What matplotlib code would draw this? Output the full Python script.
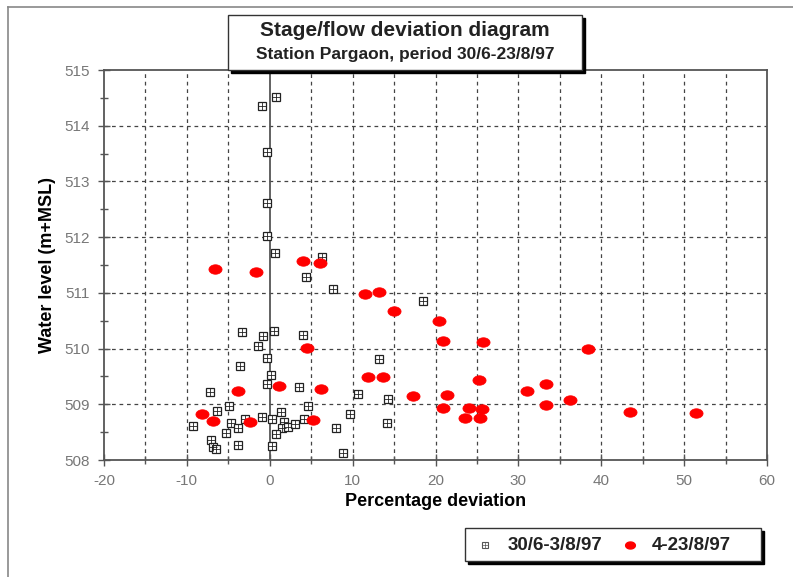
import matplotlib
matplotlib.use("Agg")
import numpy as np
import matplotlib.pyplot as plt
from matplotlib.patches import Rectangle
from matplotlib.lines import Line2D
from matplotlib.path import Path
from matplotlib.ticker import MultipleLocator

plt.rcParams['font.family'] = ['Liberation Sans', 'DejaVu Sans']
plt.rcParams['axes.unicode_minus'] = False

# Series 1: 30/6-3/8/97 (squares)
s1_dev = [0.77, -0.92, -0.31, -0.31, -0.31, 0.65, 6.33, 4.40, 7.66, 18.53,
          -3.33, -0.80, 0.53, 4.03, -1.40, -0.31, 13.21, -3.57, 0.17, -0.31,
          3.55, -7.20, 10.68, 14.30, 4.64, -4.90, -6.35, 1.38, 9.71, -9.25,
          -4.66, -3.82, -2.97, -0.92, 0.29, 1.74, 1.50, 2.22, 3.07, 4.15,
          8.02, 14.18, -5.27, 0.77, -7.08, -6.84, -6.47, -3.82, 0.29, 8.86]
s1_lvl = [514.52, 514.36, 513.53, 512.61, 512.02, 511.72, 511.64, 511.29, 511.07, 510.85,
          510.30, 510.23, 510.32, 510.24, 510.05, 509.83, 509.81, 509.69, 509.53, 509.36,
          509.31, 509.22, 509.18, 509.10, 508.97, 508.97, 508.88, 508.86, 508.83, 508.61,
          508.66, 508.57, 508.74, 508.77, 508.74, 508.68, 508.57, 508.59, 508.65, 508.74,
          508.57, 508.66, 508.48, 508.47, 508.36, 508.23, 508.20, 508.27, 508.25, 508.13]

# Series 2: 4-23/8/97 (red dots)
s2_dev = [-6.6, -1.64, 4.03, 6.09, 11.52, 13.21, 15.02, 20.46, 20.94, 25.77,
          4.52, 38.45, 1.14, 6.21, 11.88, 13.70, -3.82, 17.32, 21.43, 25.29,
          31.09, 33.38, 36.28, 33.38, 20.94, 24.08, 25.65, 23.60, 25.41, 43.41,
          51.38, -8.16, -6.84, -2.37, 5.24]
s2_lvl = [511.43, 511.38, 511.57, 511.54, 510.98, 511.02, 510.68, 510.50, 510.14, 510.12,
          510.01, 509.99, 509.33, 509.27, 509.49, 509.49, 509.24, 509.15, 509.17, 509.44,
          509.24, 509.36, 509.08, 508.99, 508.93, 508.93, 508.92, 508.75, 508.75, 508.86,
          508.84, 508.83, 508.70, 508.68, 508.72]

title1 = "Stage/flow deviation diagram"
title2 = "Station Pargaon, period 30/6-23/8/97"
xlabel = "Percentage deviation"
ylabel = "Water level (m+MSL)"
label1 = "30/6-3/8/97"
label2 = "4-23/8/97"

W, H = 793, 577
fig = plt.figure(figsize=(W / 100, H / 100), dpi=100)
fig.patch.set_facecolor('white')

def fx(px):
    return px / W

def fy(py):
    return 1 - py / H

# elliptical dot marker (wider than tall)
_t = np.linspace(0, 2 * np.pi, 40)
ellipse = Path(np.column_stack([np.cos(_t), 0.72 * np.sin(_t)]), closed=True)

ax = fig.add_axes([fx(104), fy(460), fx(767) - fx(104), fy(70) - fy(460)])
ax.set_xlim(-20, 60)
ax.set_ylim(508, 515)
ax.xaxis.set_major_locator(MultipleLocator(10))
ax.xaxis.set_minor_locator(MultipleLocator(5))
ax.yaxis.set_major_locator(MultipleLocator(1))
ax.yaxis.set_minor_locator(MultipleLocator(0.5))

grid_kw = dict(color='#444444', linestyle=(0, (3, 3)), linewidth=0.9, zorder=0)
for xv in range(-15, 60, 5):
    if xv != 0:
        ax.axvline(xv, **grid_kw)
for yv in range(509, 515):
    ax.axhline(yv, **grid_kw)
ax.axvline(0, color='#555555', linewidth=1.3, zorder=1)

for sp in ax.spines.values():
    sp.set_color('#555555')
    sp.set_linewidth(1.3)

ax.tick_params(axis='both', which='both', direction='inout', color='#555555', width=1.0)
ax.tick_params(axis='both', which='major', length=8, labelsize=11, labelcolor='#777777')
ax.tick_params(axis='both', which='minor', length=6)
ax.tick_params(axis='x', pad=6)
ax.tick_params(axis='y', pad=6)

# squares with cross-hatch look
ax.plot(s1_dev, s1_lvl, linestyle='none', marker='s', markersize=6,
        markerfacecolor='white', markeredgecolor='#222222', markeredgewidth=0.9, zorder=3)
ax.plot(s1_dev, s1_lvl, linestyle='none', marker='+', markersize=6,
        markeredgecolor='#222222', markeredgewidth=0.6, zorder=4)
ax.plot(s2_dev, s2_lvl, linestyle='none', marker=ellipse, markersize=9.5,
        markerfacecolor='#ff0000', markeredgecolor='#ff0000', markeredgewidth=0.5, zorder=5)

ax.set_xlabel(xlabel, fontsize=13, fontweight='bold', labelpad=4)
ax.set_ylabel(ylabel, fontsize=13, fontweight='bold', labelpad=6)

# figure frame lines (left and top)
fig.add_artist(Line2D([fx(8), fx(8)], [fy(7), 0], color='#888888', linewidth=1.2))
fig.add_artist(Line2D([fx(8), 1], [fy(7), fy(7)], color='#888888', linewidth=1.2))

# title box with shadow
def shadow_box(x0, y0, x1, y1, off=3):
    fig.add_artist(Rectangle((fx(x0 + off), fy(y1 + off)), fx(x1) - fx(x0), fy(y0) - fy(y1),
                             facecolor='black', edgecolor='black', zorder=10))
    fig.add_artist(Rectangle((fx(x0), fy(y1)), fx(x1) - fx(x0), fy(y0) - fy(y1),
                             facecolor='white', edgecolor='#333333', linewidth=1.0, zorder=11))

shadow_box(228, 15, 582, 70)
fig.text(fx(405), fy(31), title1, ha='center', va='center', fontsize=15,
         fontweight='bold', color='#222222', zorder=12)
fig.text(fx(405), fy(55), title2, ha='center', va='center', fontsize=12.5,
         fontweight='bold', color='#222222', zorder=12)

# legend box with shadow
shadow_box(465, 528, 761, 561)
lx_m1, lx_t1, lx_m2, lx_t2, ly = 485, 508, 630, 652, 545
fig.add_artist(Line2D([fx(lx_m1)], [fy(ly)], marker='s', markersize=4,
                      markerfacecolor='white', markeredgecolor='#555555', markeredgewidth=0.8, zorder=12))
fig.add_artist(Line2D([fx(lx_m1)], [fy(ly)], marker='+', markersize=4,
                      markeredgecolor='#555555', markeredgewidth=0.5, zorder=13))
fig.text(fx(lx_t1), fy(ly), label1, ha='left', va='center', fontsize=13.5,
         fontweight='bold', color='#222222', zorder=12)
fig.add_artist(Line2D([fx(lx_m2)], [fy(ly)], marker=ellipse, markersize=7,
                      markerfacecolor='#ff0000', markeredgecolor='#ff0000', zorder=12))
fig.text(fx(lx_t2), fy(ly), label2, ha='left', va='center', fontsize=13.5,
         fontweight='bold', color='#222222', zorder=12)

fig.savefig('out.png', dpi=100)
